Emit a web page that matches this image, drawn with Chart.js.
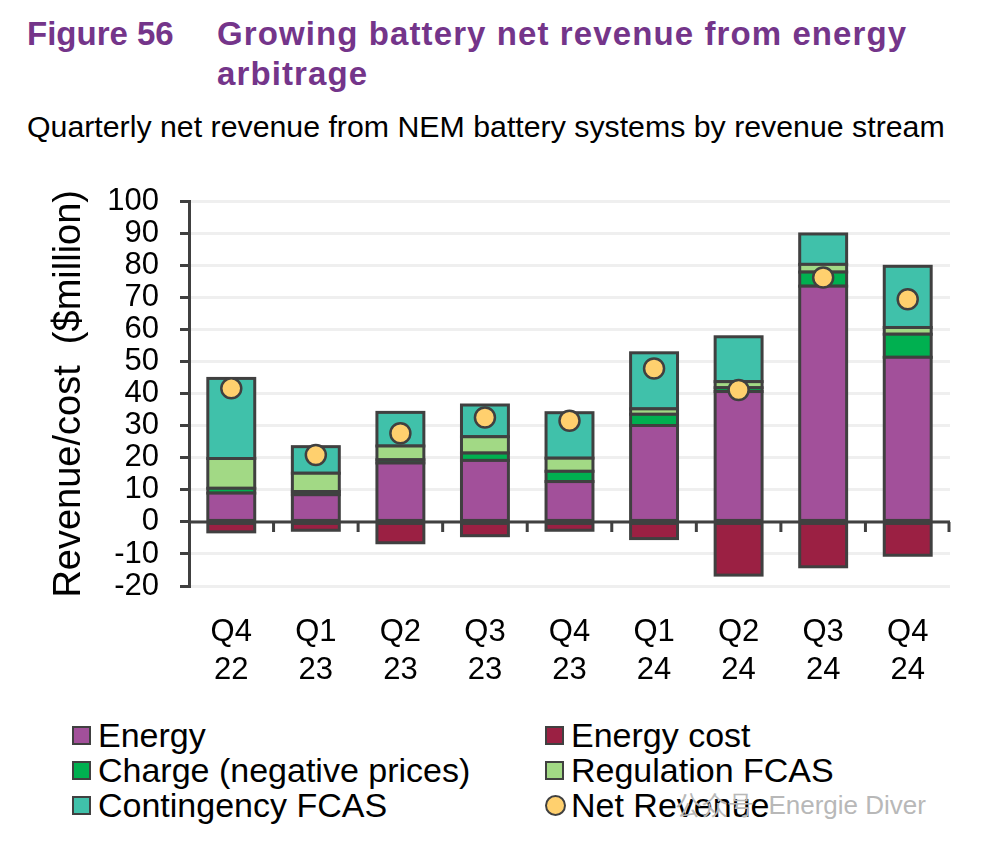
<!DOCTYPE html>
<html>
<head>
<meta charset="utf-8">
<script src="https://cdn.jsdelivr.net/npm/chart.js@4/dist/chart.umd.min.js"></script>
<style>
  body { margin: 0; width: 982px; height: 842px; background: #fff; position: relative; overflow: hidden; font-family: Arial, "Liberation Sans", sans-serif; }
  .fig { position: absolute; left: 27px; top: 14px; font-family: "Liberation Sans", Arial, sans-serif; font-weight: bold; font-size: 33px; color: #74358a; line-height: 40px; }
  .title { position: absolute; left: 217px; top: 14px; width: 760px; font-family: "Liberation Sans", Arial, sans-serif; font-weight: bold; font-size: 33px; letter-spacing: 1.1px; color: #74358a; line-height: 40px; }
  .sub { position: absolute; left: 27px; top: 110px; font-size: 30.3px; color: #000; white-space: nowrap; }
  #wrap { position: absolute; left: 0; top: 162px; width: 982px; height: 538px; }
  .legend { position: absolute; font-size: 34px; color: #000; line-height: 35px; white-space: nowrap; }
  .item { display: flex; align-items: center; height: 35px; }
  .sw { width: 15px; height: 15px; border: 2px solid #404040; margin-right: 7px; }
  .dot { width: 17px; height: 17px; border: 2px solid #404040; border-radius: 50%; margin-right: 5px; }
  .wm { position: absolute; left: 676px; top: 788px; font-size: 26px; color: #b8b8b8; white-space: nowrap; }
</style>
</head>
<body>
<div class="fig">Figure 56</div>
<div class="title">Growing battery net revenue from energy<br>arbitrage</div>
<div class="sub">Quarterly net revenue from NEM battery systems by revenue stream</div>
<div id="wrap"><canvas id="chart"></canvas></div>
<div class="legend" id="legLeft" style="left:72px; top:718px;"></div>
<div class="legend" id="legRight" style="left:545px; top:718px;"></div>
<div class="wm">公众号 &nbsp;Energie Diver</div>
<script>
// данные ($million)
const quarters = [['Q4', '22'], ['Q1', '23'], ['Q2', '23'], ['Q3', '23'], ['Q4', '23'], ['Q1', '24'], ['Q2', '24'], ['Q3', '24'], ['Q4', '24']];
const energy = [9.0, 8.5, 18.4, 19.2, 12.6, 30.1, 40.7, 73.6, 51.4];
const charge = [1.5, 1.0, 1.0, 2.3, 3.2, 3.5, 1.2, 4.4, 7.2];
const regulation = [9.3, 5.7, 4.3, 5.1, 4.1, 1.7, 1.9, 2.4, 2.1];
const contingency = [25.0, 8.3, 10.5, 9.9, 14.2, 17.5, 14.0, 9.5, 19.1];
const energyCost = [-3.1, -2.6, -6.5, -4.3, -2.6, -5.2, -16.6, -14.0, -10.4];
const netRevenue = [41.7, 20.9, 27.7, 32.6, 31.6, 47.9, 41.2, 76.3, 69.5];
const yTicks = [100, 90, 80, 70, 60, 50, 40, 30, 20, 10, 0, -10, -20];

const edge = '#404040';

const barSet = (label, data, color) => ({
    type: 'bar', label, data, backgroundColor: color, borderWidth: 0,
    stack: 'rev', order: 1, barPercentage: 0.555, categoryPercentage: 1
});

const datasets = [
    barSet('Energy', energy, '#a2509a'),
    barSet('Charge (negative prices)', charge, '#00b050'),
    barSet('Regulation FCAS', regulation, '#a2d985'),
    barSet('Contingency FCAS', contingency, '#40c1aa'),
    barSet('Energy cost', energyCost, '#9b2043'),
    {
        type: 'line', label: 'Net Revenue', data: netRevenue, showLine: false,
        pointRadius: 10, pointHoverRadius: 10, pointBackgroundColor: '#ffd06e',
        pointBorderColor: edge, pointBorderWidth: 2.5, stack: 'net', order: 0
    }
];

// обводка сегментов по центру границы, чтобы соседние делили одну линию
const barOutline = {
    id: 'barOutline',
    afterDatasetDraw(chart, args) {
        if (args.meta.type !== 'bar') return;
        const ctx = chart.ctx;
        ctx.save();
        ctx.strokeStyle = edge;
        ctx.lineWidth = 3;
        args.meta.data.forEach(bar => {
            const { x, y, base, width } = bar.getProps(['x', 'y', 'base', 'width'], true);
            ctx.strokeRect(x - width / 2, Math.min(y, base), width, Math.abs(base - y));
        });
        ctx.restore();
    }
};

// нулевая линия с засечками между кварталами
const zeroLine = {
    id: 'zeroLine',
    afterDatasetsDraw(chart) {
        const { ctx, chartArea, scales } = chart;
        const y0 = scales.y.getPixelForValue(0);
        const x = scales.x;
        ctx.save();
        ctx.strokeStyle = edge;
        ctx.lineWidth = 3;
        ctx.beginPath();
        ctx.moveTo(chartArea.left, y0);
        ctx.lineTo(chartArea.right, y0);
        for (let i = 1; i <= quarters.length; i++) {
            const bx = (x.getPixelForValue(i - 1) + x.getPixelForValue(i)) / 2;
            const px = i === quarters.length ? chartArea.right - 1 : bx;
            ctx.moveTo(px, y0);
            ctx.lineTo(px, y0 + 10);
        }
        ctx.stroke();
        ctx.restore();
    }
};

new Chart(document.getElementById('chart'), {
    data: { labels: quarters, datasets },
    options: {
        responsive: true,
        maintainAspectRatio: false,
        animation: false,
        layout: { padding: { top: 23, right: 32, left: 0, bottom: 0 } },
        plugins: { legend: { display: false }, tooltip: { enabled: false } },
        scales: {
            x: {
                grid: { display: false },
                border: { display: false },
                ticks: { color: '#000', font: { family: 'Arial', size: 31, lineHeight: 1.22 }, padding: 20, maxRotation: 0 },
                afterFit: (s) => { s.height = 114; }
            },
            y: {
                stacked: true,
                min: -20, max: 100,
                afterBuildTicks: (s) => { s.ticks = yTicks.map(v => ({ value: v })); },
                grid: { color: '#efefef', lineWidth: 3, tickColor: edge, tickWidth: 3, tickLength: 9 },
                border: { color: edge, width: 3 },
                ticks: { color: '#000', font: { family: 'Arial', size: 31 }, padding: 21, autoSkip: false },
                title: {
                    display: true, text: 'Revenue/cost  ($million)', color: '#000',
                    font: { family: 'Arial', size: 38 }, padding: { top: 47, bottom: 0 }
                },
                afterFit: (s) => { s.width = 189; }
            }
        }
    },
    plugins: [barOutline, zeroLine]
});

// легенда в две колонки, как в оригинале
const leftItems = [0, 1, 3];
const rightItems = [4, 2, 5];
const legendHtml = (idx) => idx.map(i => {
    const d = datasets[i];
    const mark = d.type === 'line'
        ? `<span class="dot" style="background:${d.pointBackgroundColor}"></span>`
        : `<span class="sw" style="background:${d.backgroundColor}"></span>`;
    return `<div class="item">${mark}<span>${d.label}</span></div>`;
}).join('');
document.getElementById('legLeft').innerHTML = legendHtml(leftItems);
document.getElementById('legRight').innerHTML = legendHtml(rightItems);
</script>
</body>
</html>
